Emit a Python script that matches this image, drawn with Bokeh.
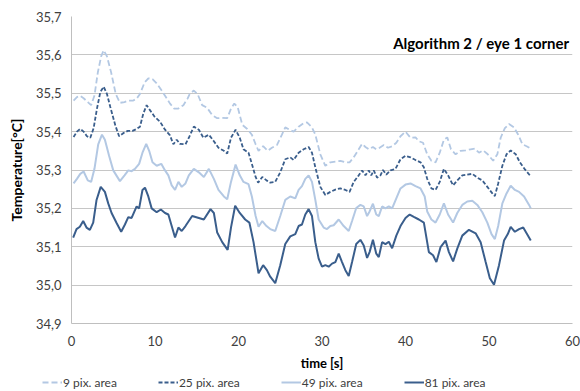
from bokeh.plotting import figure
from bokeh.models import Legend, LegendItem, FixedTicker, Label, Range1d
from bokeh.layouts import column
from bokeh.embed import file_html
from bokeh.resources import INLINE

# ---------------- data ----------------
x_ticks = [0, 10, 20, 30, 40, 50, 60]
y_ticks = [34.9, 35.0, 35.1, 35.2, 35.3, 35.4, 35.5, 35.6, 35.7]
y_tick_labels = ["34,9", "35,0", "35,1", "35,2", "35,3", "35,4", "35,5", "35,6", "35,7"]

series_names = ["9 pix. area", "25 pix. area", "49 pix. area", "81 pix. area"]

t9 = [0.25, 0.65, 1.05, 1.45, 1.95, 2.35, 2.75, 3.15, 3.55, 3.85, 4.25, 4.75, 5.3, 5.8, 6.35, 6.8, 7.4, 7.8,
      8.2, 8.75, 9.2, 9.7, 10.2, 10.8, 11.3, 11.8, 12.3, 12.8, 13.4, 13.9, 14.15, 14.65, 15.1, 15.65, 16.25,
      16.85, 17.45, 18.05, 18.65, 19.1, 19.5, 19.9, 20.45, 21.05, 21.6, 22.05, 22.4, 22.95, 23.5, 24.0, 24.6,
      25.2, 25.6, 26.1, 26.6, 27.2, 27.8, 28.2, 28.8, 29.2, 29.8, 30.4, 31.0, 31.6, 32.2, 32.8, 33.3, 33.8,
      34.4, 34.8, 35.2, 35.6, 36.1, 36.5, 36.9, 37.4, 37.9, 38.4, 38.9, 39.4, 40.0, 40.6, 41.2, 41.6, 42.1,
      42.6, 43.1, 43.6, 44.1, 44.6, 45.0, 45.45, 46.0, 46.6, 47.2, 47.8, 48.3, 48.8, 49.3, 49.85, 50.5, 51.0,
      51.4, 51.9, 52.4, 53.0, 53.5, 54.0, 54.5, 55.0]
v9 = [35.481, 35.490, 35.493, 35.487, 35.477, 35.469, 35.494, 35.554, 35.596, 35.612, 35.596, 35.554, 35.498,
      35.475, 35.477, 35.481, 35.481, 35.486, 35.498, 35.528, 35.539, 35.537, 35.526, 35.507, 35.490, 35.473,
      35.460, 35.460, 35.469, 35.486, 35.498, 35.507, 35.498, 35.469, 35.462, 35.443, 35.435, 35.436, 35.435,
      35.460, 35.473, 35.464, 35.418, 35.407, 35.392, 35.367, 35.350, 35.362, 35.350, 35.358, 35.365, 35.392,
      35.411, 35.405, 35.400, 35.413, 35.422, 35.424, 35.411, 35.392, 35.341, 35.311, 35.320, 35.322, 35.324,
      35.320, 35.320, 35.333, 35.354, 35.368, 35.360, 35.354, 35.360, 35.354, 35.358, 35.365, 35.358, 35.362,
      35.371, 35.388, 35.400, 35.384, 35.385, 35.375, 35.371, 35.341, 35.324, 35.320, 35.345, 35.379, 35.385,
      35.354, 35.341, 35.350, 35.351, 35.354, 35.356, 35.345, 35.351, 35.341, 35.324, 35.341, 35.384, 35.409,
      35.420, 35.411, 35.392, 35.367, 35.362, 35.356]

t25 = [0.25, 0.65, 1.05, 1.45, 1.85, 2.25, 2.65, 3.05, 3.45, 3.85, 4.25, 4.65, 5.25, 5.7, 6.2, 6.75, 7.3, 7.8,
       8.2, 8.6, 9.0, 9.4, 9.95, 10.6, 11.2, 11.8, 12.2, 12.6, 13.0, 13.65, 14.05, 14.65, 15.25, 15.8, 16.45,
       17.05, 17.6, 18.25, 18.65, 19.1, 19.65, 20.15, 20.6, 21.2, 21.6, 22.05, 22.35, 22.85, 23.35, 23.8, 24.4,
       25.0, 25.6, 26.2, 26.6, 27.2, 27.8, 28.4, 28.8, 29.2, 29.8, 30.4, 31.0, 31.6, 32.2, 32.8, 33.3, 33.8,
       34.4, 34.8, 35.2, 35.6, 35.9, 36.2, 36.6, 37.0, 37.3, 37.7, 38.2, 38.8, 39.4, 40.0, 40.6, 41.2, 41.8,
       42.2, 42.6, 43.1, 43.6, 44.1, 44.6, 45.1, 45.7, 46.2, 46.8, 47.4, 48.0, 48.6, 49.2, 49.8, 50.4, 50.7,
       51.1, 51.6, 52.1, 52.6, 53.2, 53.7, 54.25, 54.9]
v25 = [35.386, 35.400, 35.407, 35.400, 35.388, 35.384, 35.409, 35.460, 35.503, 35.517, 35.498, 35.464, 35.416,
       35.388, 35.396, 35.402, 35.402, 35.407, 35.413, 35.447, 35.469, 35.456, 35.439, 35.426, 35.405, 35.390,
       35.367, 35.379, 35.368, 35.367, 35.384, 35.413, 35.405, 35.384, 35.392, 35.375, 35.358, 35.350, 35.343,
       35.384, 35.405, 35.384, 35.354, 35.345, 35.316, 35.282, 35.267, 35.282, 35.273, 35.267, 35.269, 35.294,
       35.328, 35.333, 35.326, 35.345, 35.354, 35.360, 35.345, 35.307, 35.256, 35.235, 35.243, 35.249, 35.252,
       35.248, 35.243, 35.269, 35.286, 35.299, 35.286, 35.299, 35.286, 35.299, 35.280, 35.286, 35.300, 35.288,
       35.299, 35.303, 35.328, 35.337, 35.333, 35.326, 35.320, 35.307, 35.277, 35.252, 35.248, 35.269, 35.303,
       35.286, 35.260, 35.273, 35.286, 35.288, 35.290, 35.280, 35.273, 35.256, 35.239, 35.232, 35.265, 35.311,
       35.341, 35.351, 35.341, 35.320, 35.303, 35.286]

t49 = [0.25, 0.65, 1.05, 1.45, 1.95, 2.35, 2.75, 3.2, 3.65, 4.0, 4.5, 5.0, 5.8, 6.35, 6.8, 7.2, 7.6, 8.1, 8.5,
       8.95, 9.3, 9.7, 10.2, 10.75, 11.2, 11.6, 12.0, 12.4, 12.8, 13.2, 13.65, 14.05, 14.65, 15.25, 15.85,
       16.45, 17.05, 17.6, 18.25, 18.65, 19.1, 19.65, 20.15, 20.6, 21.2, 21.6, 22.05, 22.4, 22.85, 23.35, 23.8,
       24.4, 25.0, 25.6, 26.2, 26.8, 27.2, 27.6, 28.0, 28.4, 28.8, 29.2, 29.6, 30.2, 30.6, 31.0, 31.4, 32.0,
       32.6, 33.2, 33.6, 34.1, 34.6, 35.0, 35.4, 35.7, 36.1, 36.5, 36.8, 37.2, 37.6, 38.0, 38.4, 38.9, 39.4,
       40.0, 40.6, 41.2, 41.8, 42.3, 42.6, 43.1, 43.6, 44.1, 44.6, 45.1, 45.7, 46.2, 46.8, 47.4, 48.0, 48.6,
       49.2, 49.8, 50.3, 50.7, 51.1, 51.6, 52.1, 52.6, 53.1, 53.6, 54.2, 54.8, 55.0]
v49 = [35.265, 35.277, 35.290, 35.296, 35.273, 35.269, 35.303, 35.367, 35.392, 35.379, 35.337, 35.299, 35.271,
       35.286, 35.299, 35.297, 35.303, 35.316, 35.345, 35.368, 35.350, 35.320, 35.311, 35.316, 35.299, 35.286,
       35.260, 35.248, 35.269, 35.256, 35.265, 35.286, 35.303, 35.294, 35.282, 35.303, 35.277, 35.248, 35.231,
       35.224, 35.269, 35.314, 35.286, 35.269, 35.263, 35.231, 35.180, 35.152, 35.167, 35.154, 35.146, 35.141,
       35.180, 35.222, 35.231, 35.226, 35.248, 35.258, 35.277, 35.286, 35.269, 35.222, 35.171, 35.150, 35.146,
       35.154, 35.156, 35.171, 35.154, 35.141, 35.167, 35.201, 35.209, 35.205, 35.180, 35.192, 35.212, 35.184,
       35.180, 35.205, 35.200, 35.205, 35.200, 35.226, 35.252, 35.262, 35.265, 35.258, 35.252, 35.231, 35.192,
       35.171, 35.163, 35.184, 35.213, 35.184, 35.163, 35.188, 35.209, 35.218, 35.220, 35.209, 35.190, 35.163,
       35.133, 35.120, 35.154, 35.213, 35.239, 35.259, 35.248, 35.243, 35.231, 35.209, 35.200]

t81 = [0.2, 0.6, 1.0, 1.4, 1.8, 2.2, 2.6, 3.0, 3.5, 4.0, 4.4, 4.8, 5.4, 5.95, 6.4, 6.8, 7.2, 7.8, 8.1, 8.5, 8.8,
       9.2, 9.6, 10.2, 10.7, 11.2, 11.6, 12.0, 12.4, 12.8, 13.2, 13.65, 14.45, 15.25, 15.85, 16.65, 17.05,
       17.45, 18.05, 18.7, 19.1, 19.6, 20.15, 20.8, 21.3, 21.8, 22.4, 22.95, 23.4, 23.8, 24.4, 25.0, 25.6,
       26.2, 26.8, 27.2, 27.6, 28.0, 28.4, 28.8, 29.2, 29.6, 30.0, 30.4, 30.8, 31.2, 31.6, 32.0, 32.4, 32.8,
       33.2, 33.6, 34.1, 34.6, 35.0, 35.4, 35.7, 36.1, 36.5, 36.8, 37.2, 37.6, 38.0, 38.4, 38.9, 39.4, 40.0,
       40.5, 41.0, 41.6, 42.2, 42.8, 43.3, 43.7, 44.2, 44.8, 45.2, 45.7, 46.2, 46.8, 47.6, 48.4, 49.0, 49.6,
       50.1, 50.6, 51.2, 51.8, 52.25, 52.6, 53.1, 53.6, 54.1, 54.5, 55.0]
v81 = [35.124, 35.146, 35.152, 35.167, 35.150, 35.144, 35.163, 35.222, 35.256, 35.243, 35.213, 35.188, 35.162,
       35.139, 35.158, 35.177, 35.175, 35.205, 35.200, 35.248, 35.254, 35.231, 35.200, 35.190, 35.197, 35.188,
       35.184, 35.154, 35.124, 35.150, 35.141, 35.154, 35.180, 35.175, 35.171, 35.198, 35.188, 35.137, 35.112,
       35.092, 35.150, 35.207, 35.188, 35.171, 35.163, 35.112, 35.031, 35.052, 35.039, 35.022, 35.005, 35.052,
       35.107, 35.127, 35.133, 35.154, 35.158, 35.184, 35.198, 35.180, 35.112, 35.069, 35.048, 35.052, 35.048,
       35.056, 35.060, 35.082, 35.060, 35.039, 35.024, 35.060, 35.107, 35.118, 35.103, 35.071, 35.086, 35.118,
       35.082, 35.073, 35.112, 35.107, 35.113, 35.096, 35.129, 35.154, 35.175, 35.184, 35.178, 35.171, 35.163,
       35.086, 35.078, 35.060, 35.099, 35.116, 35.086, 35.062, 35.095, 35.129, 35.144, 35.135, 35.112, 35.060,
       35.018, 35.001, 35.052, 35.116, 35.133, 35.152, 35.139, 35.146, 35.150, 35.135, 35.116]

title_text = "Algorithm 2 / eye 1 corner"

# ---------------- styling ----------------
FONT = "Lato"
DARK = "#3A5E8C"
LIGHT = "#B3C8E3"
TXT = "#404040"
styles = [dict(line_color=LIGHT, line_width=1.8, line_dash="6 3"),
          dict(line_color=DARK, line_width=1.8, line_dash="4 2"),
          dict(line_color=LIGHT, line_width=2),
          dict(line_color=DARK, line_width=2)]

p = figure(width=580, height=373, output_backend="svg", toolbar_location=None,
           x_range=Range1d(0, 60), y_range=Range1d(34.9, 35.7),
           min_border_left=71, min_border_right=8, min_border_top=16, min_border_bottom=44)
p.outline_line_color = None
p.background_fill_color = "white"
p.border_fill_color = "white"

p.xgrid.visible = False
p.ygrid.grid_line_color = "#C6C6C6"
p.ygrid.grid_line_width = 1

p.xaxis.ticker = FixedTicker(ticks=x_ticks)
p.yaxis.ticker = FixedTicker(ticks=y_ticks)
p.yaxis.major_label_overrides = {t: s for t, s in zip(y_ticks, y_tick_labels)}

for ax in (p.xaxis[0], p.yaxis[0]):
    ax.axis_line_color = "#BFBFBF"
    ax.major_tick_line_color = None
    ax.minor_tick_line_color = None
    ax.major_tick_out = 0
    ax.major_tick_in = 0
    ax.major_label_text_font = FONT
    ax.major_label_text_font_size = "13px"
    ax.major_label_text_color = TXT
    ax.axis_label_text_font = FONT
    ax.axis_label_text_font_style = "bold"
    ax.axis_label_text_color = "black"

p.xaxis.axis_label = "time [s]"
p.xaxis.axis_label_text_font_size = "13px"
p.xaxis.major_label_standoff = 12
p.xaxis.axis_label_standoff = 6

p.yaxis.axis_label = "Temperature[°C]"
p.yaxis.axis_label_text_font_size = "14px"
p.yaxis.major_label_standoff = 10
p.yaxis.axis_label_standoff = 8

for t, v, st in zip([t9, t25, t49, t81], [v9, v25, v49, v81], styles):
    p.line(t, v, **st)

p.add_layout(Label(x=59.6, y=35.632, text=title_text, text_align="right", text_baseline="middle",
                   text_font=FONT, text_font_style="bold", text_font_size="15px", text_color="black"))

# ---------------- legend strip below the chart ----------------
pl = figure(width=580, height=18, output_backend="svg", toolbar_location=None,
            x_axis_type=None, y_axis_type=None, x_range=Range1d(0, 1), y_range=Range1d(0, 1),
            min_border=0)
pl.frame_align = False
pl.outline_line_color = None
pl.grid.visible = False
# renderers lie outside the strip's range: only their legend swatches are seen
leg_renderers = [pl.line([2, 3], [2, 3], **st) for st in styles]
legend = Legend(items=[LegendItem(label=n, renderers=[r]) for n, r in zip(series_names, leg_renderers)],
                orientation="horizontal", location=(42, 1),
                border_line_color=None, background_fill_alpha=0,
                label_text_font=FONT, label_text_font_size="12px", label_text_color=TXT,
                glyph_width=20, glyph_height=16, label_height=16, label_standoff=1,
                spacing=41, padding=0, margin=0)
pl.add_layout(legend, "center")

layout = column(p, pl, spacing=0)
open("out.html", "w").write(file_html(layout, INLINE))
